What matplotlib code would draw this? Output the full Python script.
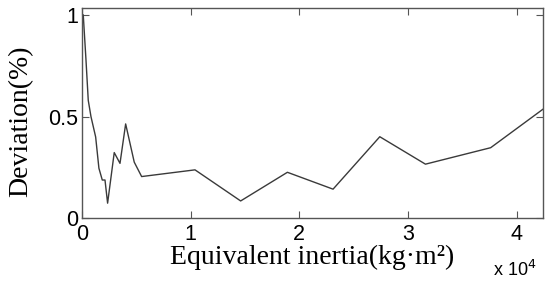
import matplotlib
matplotlib.use("Agg")
import matplotlib.pyplot as plt
from matplotlib.ticker import FixedLocator, FuncFormatter

# Data (equivalent inertia in kg·m², deviation in %)
inertia = [120, 370, 580, 830, 1260, 1560, 1870, 2120, 2360, 2970, 3500, 4020,
           4810, 5490, 10400, 14600, 18900, 23100, 27400, 31600, 37600, 42400]
deviation = [1.00, 0.78, 0.58, 0.50, 0.40, 0.246, 0.188, 0.188, 0.074, 0.323, 0.27, 0.464,
             0.276, 0.205, 0.238, 0.085, 0.226, 0.143, 0.401, 0.266, 0.347, 0.536]
xticks = [0, 10000, 20000, 30000, 40000]
yticks = [0, 0.5, 1]
ytick_labels = ["0", "0.5", "1"]

fig = plt.figure(figsize=(5.5, 2.86), dpi=100)
ax = fig.add_axes([0.149, 0.237, 0.838, 0.734])
ax.plot(inertia, deviation, color="#3a3a3a", linewidth=1.0)
ax.set_xlim(0, 42400)
ax.set_ylim(0, 1.033)

ax.xaxis.set_major_locator(FixedLocator(xticks))
ax.xaxis.set_major_formatter(FuncFormatter(lambda v, p: f"{v/1e4:g}"))
ax.set_yticks(yticks)
ax.set_yticklabels(ytick_labels)

for s in ax.spines.values():
    s.set_color("#555555")
    s.set_linewidth(1.0)
ax.tick_params(direction="in", length=5, width=0.8, color="#555555",
               top=True, right=True, labelsize=15.5)
ax.tick_params(axis="x", pad=4)
ax.tick_params(axis="y", pad=3)
for lab in ax.get_xticklabels() + ax.get_yticklabels():
    lab.set_fontfamily("Liberation Sans")

ax.set_xlabel("Equivalent inertia(kg·m²)", fontfamily="Liberation Serif",
              fontsize=20, labelpad=0)
ax.set_ylabel("Deviation(%)", fontfamily="Liberation Serif", fontsize=20)
ax.yaxis.set_label_coords(-0.105, 0.46)
fig.text(0.975, 0.055, r"x 10$^4$", ha="right", va="center",
         fontfamily="Liberation Sans", fontsize=13)

fig.savefig("out.png", dpi=100)
